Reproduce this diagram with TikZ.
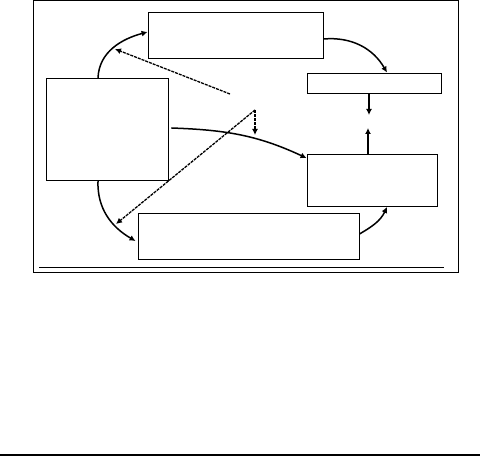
\documentclass[tikz,border=0pt]{standalone}
\usetikzlibrary{arrows.meta}

\begin{document}
\begin{tikzpicture}[
  x=1pt, y=1pt,
  every node/.style={inner sep=0pt},
  box/.style={draw, line width=0.9pt, rectangle},
  frame/.style={draw, line width=0.9pt},
  arrow/.style={draw, line width=1.5pt, -{Latex[length=6pt,width=6pt]}},
  darrow/.style={draw, line width=1.3pt, -{Latex[length=6pt,width=6pt]}, dash pattern=on 3pt off 1pt}]

  \useasboundingbox (0,0) rectangle (480,-457);

  % outer frame and rules
  \draw[frame] (33,-0.5) rectangle (458,-272);
  \draw[frame] (39,-267) -- (444,-267);
  \draw[line width=2pt] (0,-455.5) -- (480,-455.5);

  \node[box, minimum width=175pt, minimum height=46pt]  (top)  at (235.5,-35)  {};
  \node[box, minimum width=122pt, minimum height=102pt] (left) at (107,-129.5) {};
  \node[box, minimum width=134pt, minimum height=20pt]  (rtop) at (374,-83)    {};
  \node[box, minimum width=130pt, minimum height=52pt]  (rbot) at (372,-180.5) {};
  \node[box, minimum width=221pt, minimum height=46pt]  (bot)  at (248.5,-236) {};

  \coordinate (downend) at (369,-115);
  \coordinate (upend)   at (368,-128);
  \coordinate (tip)     at (255,-110);
  \coordinate (foot)    at (255,-135);
  \coordinate (dstart)  at (230,-94);
  \coordinate (dupper)  at (115,-49);
  \coordinate (dlower)  at (116,-224);

  \draw[arrow] ([xshift=-9pt]left.north) to[out=88, in=195] ([yshift=3pt]top.west);
  \draw[arrow] ([yshift=-4pt]top.east) to[out=5, in=120] ([xshift=13pt]rtop.north);
  \draw[arrow] ([xshift=-5pt]rtop.south) -- (downend);
  \draw[arrow] ([xshift=-4pt]rbot.north) -- (upend);
  \draw[arrow] ([yshift=2pt]bot.east) to[out=30, in=245] ([xshift=15pt]rbot.south);
  \draw[arrow] ([xshift=-9pt]left.south) to[out=-92, in=150] ([xshift=-2pt,yshift=-5pt]bot.west);
  \draw[arrow] ([xshift=3pt,yshift=1.5pt]left.east) to[out=-2, in=155] ([yshift=-4pt]rbot.north west);

  \draw[darrow] (dstart) -- (dupper);
  \draw[darrow] (tip) -- (dlower);
  \draw[darrow] (tip) -- (foot);

\end{tikzpicture}
\end{document}
